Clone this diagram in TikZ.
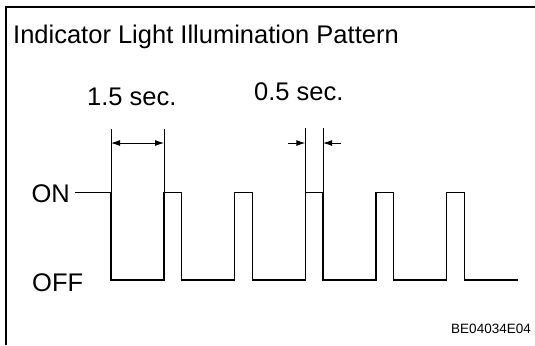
\documentclass[tikz,border=0pt]{standalone}
\usepackage{fontspec}
\setmainfont{Liberation Sans}
\usetikzlibrary{arrows.meta}
\begin{document}
\begin{tikzpicture}[x=1bp,y=-1bp,
    lbl/.style={font=\fontsize{25.5bp}{30bp}\selectfont,inner sep=0pt},
    wave/.style={line width=1.5bp},
    dim/.style={line width=0.9bp},
    >={Latex[length=9bp,width=6bp]}]
  \useasboundingbox (0,0) rectangle (535,345);
  \draw[line width=2.2bp] (6,345) -- (6,7) -- (535,7);

  \node[lbl,anchor=base west] (title) at (13,43) {Indicator Light Illumination Pattern};
  \node[lbl,anchor=base west] (longlbl) at (87,105) {1.5 sec.};
  \node[lbl,anchor=base west] (shortlbl) at (254,100) {0.5 sec.};
  \node[lbl,anchor=east] (onlbl) at (70,194) {ON};
  \node[lbl,anchor=west] (offlbl) at (32,283) {OFF};
  \node[font=\fontsize{13.5bp}{16bp}\selectfont,inner sep=0pt,anchor=base east] (code) at (531,333) {BE04034E04};

  % wave
  \coordinate (on) at (75,192.5);
  \draw[wave] (on) -- (111,192.5) -- (111,280)
    \foreach \k in {0,...,4}{ -- ({164+70.67*\k},280) -- ++(0,-87.5) -- ++(17.67,0) -- ++(0,87.5)}
    -- (518,280);

  % dimensions
  \coordinate (e1) at (111,129);
  \coordinate (e2) at (164,129);
  \coordinate (e3) at (305.3,128);
  \coordinate (e4) at (323,128);
  \draw[dim] (e1) -- (111,192.5) (e2) -- (164,192.5)
    (e3) -- (305.3,192.5) (e4) -- (323,192.5);
  \draw[dim,<->] (111,143) -- (164,143);
  \draw[dim,->] (288,143) -- (305.3,143);
  \draw[dim,->] (341,143) -- (323,143);
\end{tikzpicture}
\end{document}
